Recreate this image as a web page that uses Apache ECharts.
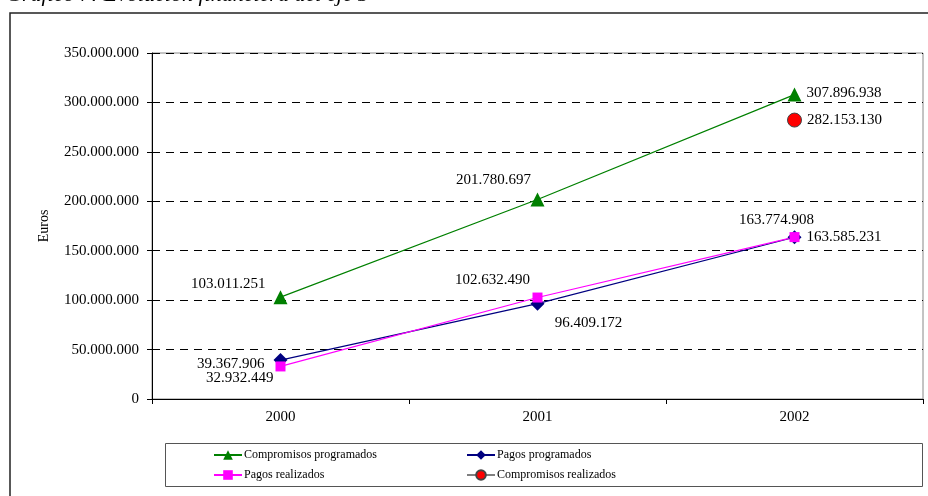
<!DOCTYPE html>
<html>
<head>
<meta charset="utf-8">
<script src="https://cdn.jsdelivr.net/npm/echarts@6/dist/echarts.min.js"></script>
<style>
  html, body { margin: 0; padding: 0; background: #fff; }
  #chatMain { width: 928px; height: 496px; }
</style>
</head>
<body>
<div id="chatMain"></div>
<script>
// datos
const years = ['2000', '2001', '2002'];
const compromisosProgramados = [103011251, 201780697, 307896938];
const pagosProgramados = [39367906, 96409172, 163585231];
const pagosRealizados = [32932449, 102632490, 163774908];
const compromisosRealizados = [null, null, 282153130];
const yTicks = [0, 50000000, 100000000, 150000000, 200000000, 250000000, 300000000, 350000000];

const fontFam = '"Liberation Serif", "Times New Roman", serif';

// formato 1.234.567
function fmt(v) {
  return String(Math.round(v)).replace(/\B(?=(\d{3})+(?!\d))/g, '.');
}

// colocacion de etiquetas por punto
function withLabels(values, places) {
  return values.map((v, i) => {
    if (v == null) return null;
    const p = places[i];
    return {
      value: v,
      label: { show: true, position: p[0], offset: p[1] }
    };
  });
}

const labelStyle = {
  show: true,
  color: '#000',
  fontFamily: fontFam,
  fontSize: 15,
  distance: 5,
  formatter: (p) => fmt(p.value)
};

const myechart = echarts.init(document.getElementById('chatMain'), null, { renderer: 'canvas' });

const option = {
  animation: false,
  backgroundColor: '#fff',
  textStyle: { fontFamily: fontFam },
  graphic: [
    // titulo cortado arriba
    {
      type: 'text', left: 6, top: -16,
      style: {
        text: 'Gráfico 7: Evolución financiera del eje 3',
        font: 'italic 22px ' + fontFam,
        fill: '#000'
      }
    },
    // marco exterior
    {
      type: 'rect', shape: { x: 10, y: 13, width: 940, height: 520 },
      style: { fill: 'none', stroke: '#222', lineWidth: 1.5 }, z: -1
    },
    // caja de la leyenda
    {
      type: 'rect', shape: { x: 165.5, y: 443.5, width: 757, height: 43 },
      style: { fill: 'none', stroke: '#555', lineWidth: 1 }
    }
  ],
  grid: {
    show: true,
    left: 152, right: 5, top: 53, bottom: 97,
    borderColor: '#888', borderWidth: 1,
    backgroundColor: '#fff'
  },
  xAxis: {
    type: 'category',
    data: years,
    boundaryGap: true,
    axisLine: { lineStyle: { color: '#000', width: 1 } },
    axisTick: { show: true, length: 5, lineStyle: { color: '#000' } },
    axisLabel: { color: '#000', fontSize: 15, fontFamily: fontFam, margin: 11 },
    splitLine: { show: false }
  },
  yAxis: {
    type: 'value',
    min: yTicks[0],
    max: yTicks[yTicks.length - 1],
    interval: yTicks[1] - yTicks[0],
    name: 'Euros',
    nameLocation: 'middle',
    nameGap: 101,
    nameTextStyle: { color: '#000', fontSize: 14, fontFamily: fontFam },
    axisLine: { show: true, lineStyle: { color: '#000', width: 1 } },
    axisTick: { show: true, length: 5, lineStyle: { color: '#000' } },
    axisLabel: { color: '#000', fontSize: 15, fontFamily: fontFam, margin: 13, formatter: (v) => fmt(v) },
    splitLine: {
      show: true,
      lineStyle: { color: '#000', type: [8, 6], width: 1 }
    }
  },
  legend: [
    { data: ['Compromisos programados'], left: 213, top: 449 },
    { data: ['Pagos programados'], left: 466, top: 449 },
    { data: ['Pagos realizados'], left: 213, top: 469 },
    { data: ['Compromisos realizados'], left: 466, top: 469 }
  ].map(l => Object.assign({
    itemWidth: 28, itemHeight: 12, itemGap: 4,
    textStyle: { color: '#000', fontSize: 12, fontFamily: fontFam, padding: [0, 0, 0, -3] },
    padding: 0,
    selectedMode: false
  }, l)),
  series: [
    {
      name: 'Compromisos programados',
      type: 'line',
      data: withLabels(compromisosProgramados, [['left', [-3, -13]], ['top', [-44, 0]], ['right', [0, -2]]]),
      symbol: 'triangle', symbolSize: 14,
      lineStyle: { color: '#008000', width: 1.2 },
      itemStyle: { color: '#008000' },
      label: labelStyle
    },
    {
      name: 'Pagos programados',
      type: 'line',
      data: withLabels(pagosProgramados, [['left', [-4, 4]], ['bottom', [51, 0]], ['right', [0, 0]]]),
      symbol: 'diamond', symbolSize: 14,
      lineStyle: { color: '#000080', width: 1.2 },
      itemStyle: { color: '#000080' },
      label: labelStyle
    },
    {
      name: 'Pagos realizados',
      type: 'line',
      data: withLabels(pagosRealizados, [['left', [3, 12]], ['top', [-45, 0]], ['top', [-18, 0]]]),
      symbol: 'rect', symbolSize: 10,
      lineStyle: { color: '#FF00FF', width: 1.2 },
      itemStyle: { color: '#FF00FF' },
      label: labelStyle
    },
    {
      name: 'Compromisos realizados',
      type: 'line',
      data: withLabels(compromisosRealizados, [null, null, ['right', [0, 0]]]),
      symbol: 'circle', symbolSize: 14,
      lineStyle: { color: '#808080', width: 1.2 },
      itemStyle: { color: '#FF0000', borderColor: '#444', borderWidth: 1 },
      label: labelStyle
    }
  ]
};
myechart.setOption(option);
</script>
</body>
</html>
